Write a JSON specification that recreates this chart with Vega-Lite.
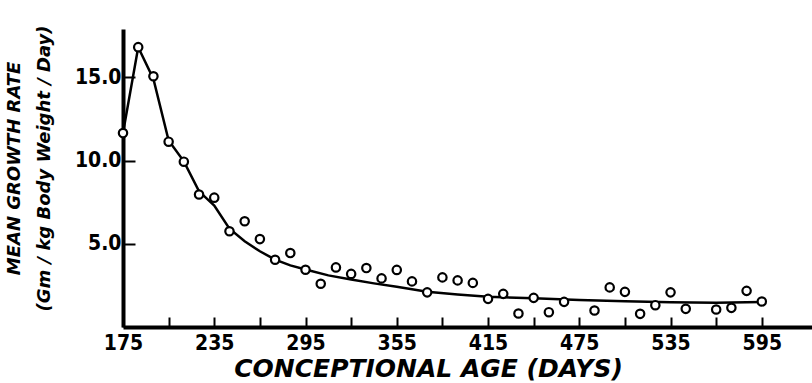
{
  "$schema": "https://vega.github.io/schema/vega-lite/v6.json",
  "width": 689,
  "height": 298,
  "autosize": {"type": "none"},
  "padding": {"left": 123, "top": 29, "right": 0, "bottom": 56},
  "background": "white",
  "config": {
    "view": {"stroke": null},
    "axis": {
      "grid": false,
      "domainColor": "black",
      "domainWidth": 4,
      "tickColor": "black",
      "tickWidth": 2,
      "labelColor": "black",
      "titleColor": "black",
      "labelFont": "Liberation Sans Narrow, DejaVu Sans Condensed, sans-serif",
      "labelFontWeight": "bold",
      "labelFontSize": 21,
      "titleFont": "DejaVu Sans",
      "titleFontWeight": "bold",
      "titleFontStyle": "italic",
      "zindex": 0
    }
  },
  "datasets": {
    "obs": [
      {"age": 175, "rate": 11.65}, {"age": 185, "rate": 16.81}, {"age": 195, "rate": 15.06},
      {"age": 205, "rate": 11.13}, {"age": 215, "rate": 9.93}, {"age": 225, "rate": 7.96},
      {"age": 235, "rate": 7.77}, {"age": 245, "rate": 5.75}, {"age": 255, "rate": 6.35},
      {"age": 265, "rate": 5.28}, {"age": 275, "rate": 4.04}, {"age": 285, "rate": 4.44},
      {"age": 295, "rate": 3.44}, {"age": 305, "rate": 2.6}, {"age": 315, "rate": 3.58},
      {"age": 325, "rate": 3.19}, {"age": 335, "rate": 3.54}, {"age": 345, "rate": 2.92},
      {"age": 355, "rate": 3.43}, {"age": 365, "rate": 2.74}, {"age": 375, "rate": 2.08},
      {"age": 385, "rate": 2.98}, {"age": 395, "rate": 2.8}, {"age": 405, "rate": 2.65},
      {"age": 415, "rate": 1.69}, {"age": 425, "rate": 1.99}, {"age": 435, "rate": 0.81},
      {"age": 445, "rate": 1.75}, {"age": 455, "rate": 0.89}, {"age": 465, "rate": 1.51},
      {"age": 485, "rate": 0.99}, {"age": 495, "rate": 2.38}, {"age": 505, "rate": 2.11},
      {"age": 515, "rate": 0.79}, {"age": 525, "rate": 1.31}, {"age": 535, "rate": 2.08},
      {"age": 545, "rate": 1.09}, {"age": 565, "rate": 1.05}, {"age": 575, "rate": 1.15},
      {"age": 585, "rate": 2.17}, {"age": 595, "rate": 1.53}
    ],
    "fit": [
      {"age": 175, "rate": 11.65}, {"age": 185, "rate": 16.8}, {"age": 195, "rate": 14.9},
      {"age": 205, "rate": 11.2}, {"age": 215, "rate": 9.95}, {"age": 225, "rate": 8.15},
      {"age": 235, "rate": 7.3}, {"age": 245, "rate": 5.9}, {"age": 255, "rate": 5.15},
      {"age": 265, "rate": 4.55}, {"age": 275, "rate": 4.05}, {"age": 285, "rate": 3.7},
      {"age": 295, "rate": 3.45}, {"age": 310, "rate": 3.1}, {"age": 325, "rate": 2.85},
      {"age": 340, "rate": 2.62}, {"age": 355, "rate": 2.42}, {"age": 375, "rate": 2.12},
      {"age": 395, "rate": 1.95}, {"age": 415, "rate": 1.82}, {"age": 445, "rate": 1.72},
      {"age": 475, "rate": 1.62}, {"age": 505, "rate": 1.54}, {"age": 535, "rate": 1.48},
      {"age": 565, "rate": 1.46}, {"age": 595, "rate": 1.5}
    ]
  },
  "layer": [
    {
      "data": {"name": "fit"},
      "mark": {"type": "line", "color": "black", "strokeWidth": 2.5, "interpolate": "linear"},
      "encoding": {
        "x": {
          "field": "age", "type": "quantitative",
          "scale": {"domain": [175, 628], "nice": false, "zero": false},
          "axis": {
            "values": [175, 205, 235, 265, 295, 325, 355, 385, 415, 445, 475, 505, 535, 565, 595],
            "labelExpr": "(datum.value - 175) % 60 === 0 ? datum.label : ''",
            "tickSize": -10,
            "labelPadding": 15,
            "labelFlush": false,
            "labelOverlap": false,
            "title": "CONCEPTIONAL  AGE (DAYS)",
            "titleFontSize": 25,
            "titleX": 305,
            "titleY": 49,
            "titleAlign": "center",
            "titleBaseline": "alphabetic"
          }
        },
        "y": {
          "field": "rate", "type": "quantitative",
          "scale": {"domain": [0, 17.9], "nice": false, "zero": true},
          "axis": {
            "values": [5, 10, 15],
            "format": ".1f",
            "tickSize": -12,
            "labelPadding": 14,
            "title": ["MEAN GROWTH RATE", "(Gm / kg  Body Weight / Day)"],
            "titleFontSize": 18,
            "titleAngle": -90,
            "titleX": -109,
            "titleY": 139,
            "titleAlign": "center",
            "titleBaseline": "middle",
            "titleLineHeight": 30
          }
        }
      }
    },
    {
      "data": {"name": "obs"},
      "mark": {"type": "point", "shape": "circle", "size": 70, "fill": "white", "stroke": "black", "strokeWidth": 2.2, "opacity": 1, "fillOpacity": 1},
      "encoding": {
        "x": {"field": "age", "type": "quantitative"},
        "y": {"field": "rate", "type": "quantitative"}
      }
    }
  ]
}
